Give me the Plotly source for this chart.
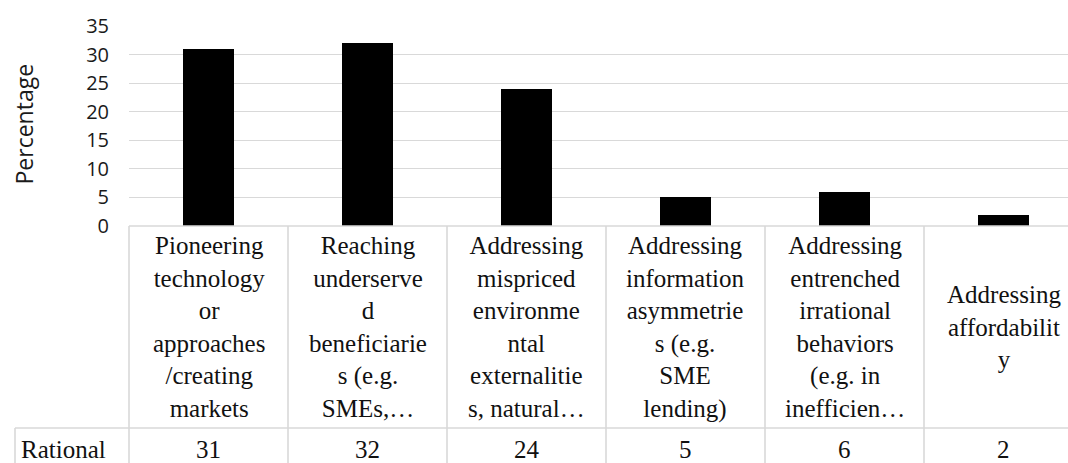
import plotly.graph_objects as go

# ---- data ----
series_name = "Rational"
category_lines = [
    ["Pioneering", "technology", "or", "approaches", "/creating", "markets"],
    ["Reaching", "underserve", "d", "beneficiarie", "s (e.g.", "SMEs,…"],
    ["Addressing", "mispriced", "environme", "ntal", "externalitie", "s, natural…"],
    ["Addressing", "information", "asymmetrie", "s (e.g.", "SME", "lending)"],
    ["Addressing", "entrenched", "irrational", "behaviors", "(e.g. in", "inefficien…"],
    ["Addressing", "affordabilit", "y"],
]
values = [31, 32, 24, 5, 6, 2]
y_ticks = [0, 5, 10, 15, 20, 25, 30, 35]
y_title = "Percentage"

# ---- layout constants (pixels) ----
W, H = 1068, 463
L, R, T, B = 129, 0, 26, 237
COL = 159.0
plot_w = W - L - R
plot_h = H - T - B
header_bottom = 428
row_left = 15

n = len(values)
x_idx = list(range(n))
xspan = plot_w / COL

def px_x(px):
    return (px - L) / plot_w

def px_y(py):
    return (H - B - py) / plot_h

grid_col = "#d9d9d9"
serif = "Liberation Serif, Times New Roman, serif"
sans = "Open Sans, sans-serif"

fig = go.Figure()
fig.add_trace(go.Bar(
    x=x_idx, y=values, name=series_name, width=0.315,
    marker=dict(color="black", line=dict(width=0)),
    showlegend=False, hoverinfo="skip",
))

shapes = []
top_py = H - B
for k in range(n + 1):
    xp = k / xspan
    shapes.append(dict(type="line", xref="paper", yref="paper",
                       x0=xp, x1=xp, y0=px_y(top_py), y1=px_y(H + 5),
                       line=dict(color=grid_col, width=1.6)))
shapes.append(dict(type="line", xref="paper", yref="paper",
                   x0=px_x(row_left), x1=px_x(W + 5),
                   y0=px_y(header_bottom), y1=px_y(header_bottom),
                   line=dict(color=grid_col, width=1.6)))
shapes.append(dict(type="line", xref="paper", yref="paper",
                   x0=px_x(row_left), x1=px_x(row_left),
                   y0=px_y(header_bottom), y1=px_y(H + 5),
                   line=dict(color=grid_col, width=1.6)))
shapes.append(dict(type="line", xref="paper", yref="paper",
                   x0=0, x1=px_x(W + 5), y0=0, y1=0,
                   line=dict(color=grid_col, width=1.6)))

annotations = []
header_mid = (top_py + header_bottom) / 2
row_mid = 449.5
for i, lines in enumerate(category_lines):
    annotations.append(dict(
        x=i, xref="x", y=px_y(header_mid), yref="paper",
        text="<br>".join(lines), showarrow=False,
        xanchor="center", yanchor="middle", align="center",
        font=dict(family=serif, size=25, color="#111111"),
    ))
    annotations.append(dict(
        x=i, xref="x", y=px_y(row_mid), yref="paper",
        text=str(values[i]), showarrow=False,
        xanchor="center", yanchor="middle",
        font=dict(family=serif, size=25, color="#111111"),
    ))
annotations.append(dict(
    x=px_x(19), xref="paper", y=px_y(row_mid), yref="paper",
    text=series_name, showarrow=False, xanchor="left", yanchor="middle",
    font=dict(family=serif, size=25, color="#111111"),
))
annotations.append(dict(
    x=px_x(23), xref="paper", y=px_y(124.5), yref="paper",
    text=y_title, showarrow=False, textangle=-90,
    xanchor="center", yanchor="middle",
    font=dict(family=sans, size=23, color="#1a1a1a"),
))

fig.update_layout(
    width=W, height=H,
    margin=dict(l=L, r=R, t=T, b=B, autoexpand=False),
    paper_bgcolor="white", plot_bgcolor="white",
    shapes=shapes, annotations=annotations,
    xaxis=dict(range=[-0.5, -0.5 + xspan], showticklabels=False,
               showgrid=False, zeroline=False, showline=False, ticks=""),
    yaxis=dict(range=[0, 35], tickvals=y_ticks, showgrid=True,
               gridcolor=grid_col, gridwidth=1.4, zeroline=False,
               showline=False, ticks="", ticklabelstandoff=19,
               tickfont=dict(family=sans, size=20, color="#1a1a1a")),
    bargap=0,
)

fig.write_html("out.html", config={"displayModeBar": False})
